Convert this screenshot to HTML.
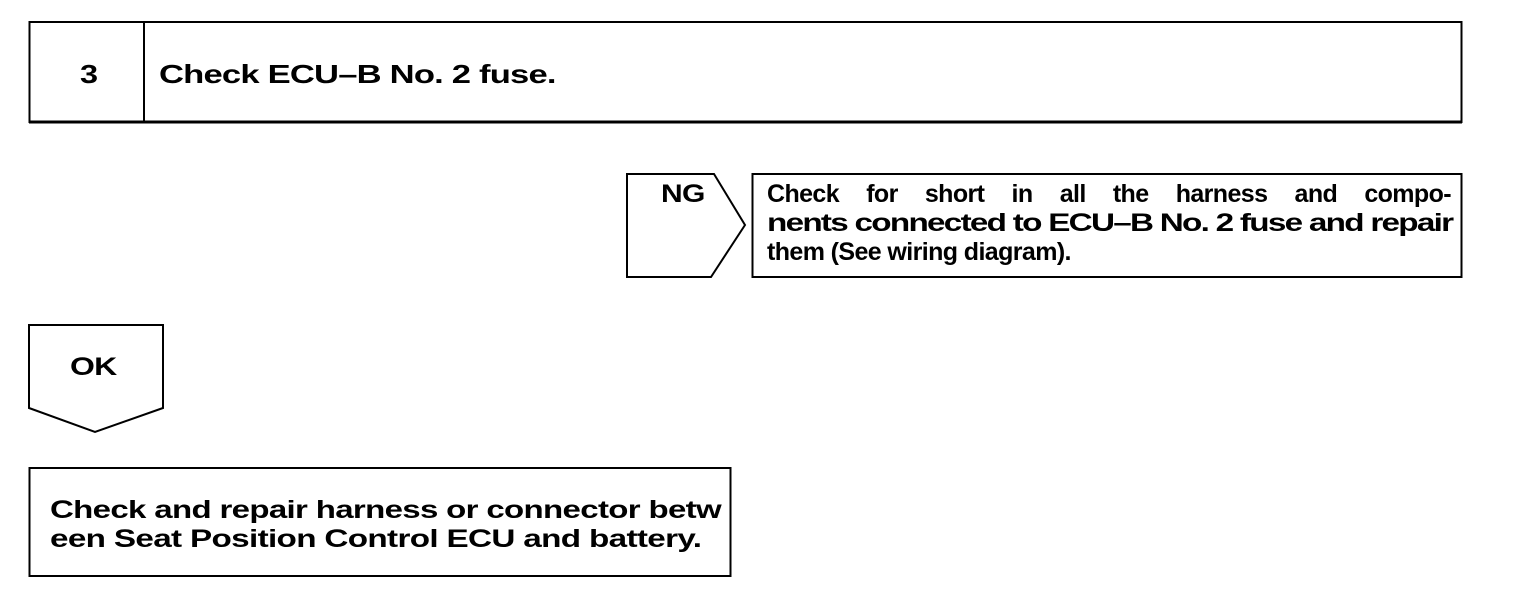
<!DOCTYPE html>
<html><head><style>
body{margin:0;width:1520px;height:608px;background:#fff;position:relative;overflow:hidden;font-family:"Liberation Sans",Arial,sans-serif;font-weight:bold;color:#000}
.t{position:absolute;white-space:nowrap;font-size:25px;letter-spacing:-0.6px;transform-origin:0 50%}
</style></head><body>
<svg width="1520" height="608" style="position:absolute;left:0;top:0">
<g fill="none" stroke="#000">
<rect x="29.5" y="22" width="1432" height="100" stroke-width="2"/>
<line x1="29" y1="122" x2="1462" y2="122" stroke-width="3"/>
<line x1="144" y1="22" x2="144" y2="122" stroke-width="2"/>
<polygon points="627,174 714,174 745,225 711,277 627,277" stroke-width="2"/>
<rect x="752.5" y="174" width="709" height="103" stroke-width="2"/>
<polygon points="29,325 163,325 163,408 95,432 29,408" stroke-width="2"/>
<rect x="29.5" y="468" width="701" height="108" stroke-width="2"/>
</g>
</svg>
<div class="t" style="left:80px;top:59px;font-size:26px;transform:scaleX(1.25)">3</div>
<div class="t" style="left:159px;top:59px;font-size:26px;transform:scaleX(1.33)">Check ECU–B No. 2 fuse.</div>
<div class="t" style="left:661px;top:180px;transform:scaleX(1.2)">NG</div>
<div class="t" style="left:767px;top:180px;line-height:29px;width:684px;white-space:normal;text-align:justify;text-align-last:justify">Check for short in all the harness and compo-</div>
<div class="t" style="left:767px;top:209px;line-height:29px;letter-spacing:-1.3px;transform:scaleX(1.33)">nents connected to ECU–B No. 2 fuse and repair</div>
<div class="t" style="left:767px;top:238px;line-height:29px">them (See wiring diagram).</div>
<div class="t" style="left:70px;top:353px;transform:scaleX(1.28)">OK</div>
<div class="t" style="left:50px;top:496px;line-height:29px;letter-spacing:-0.5px;transform:scaleX(1.32)">Check and repair harness or connector betw</div>
<div class="t" style="left:50px;top:525px;line-height:29px;letter-spacing:-0.5px;transform:scaleX(1.33)">een Seat Position Control ECU and battery.</div>
</body></html>
